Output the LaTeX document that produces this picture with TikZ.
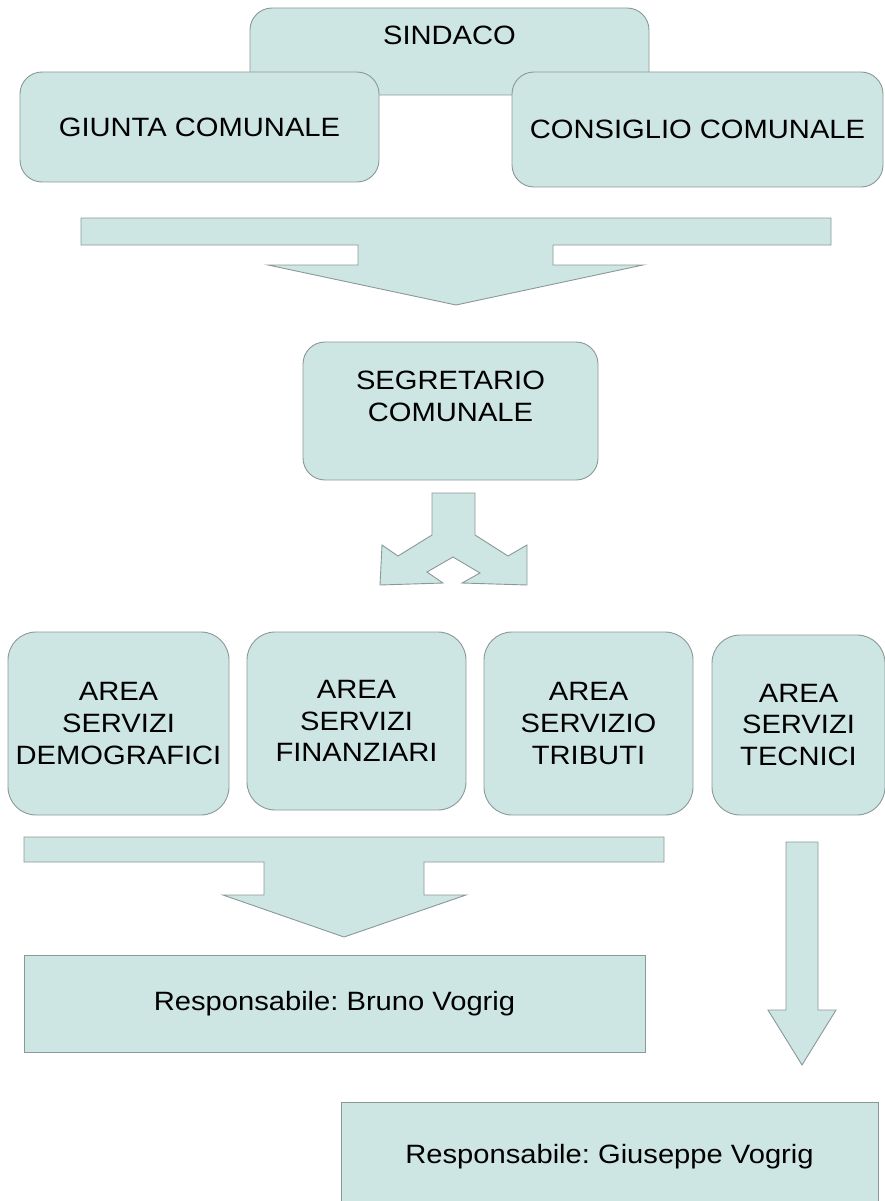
\documentclass[tikz,border=0pt]{standalone}
\usepackage{fontspec}
\setmainfont{Liberation Sans}[FakeStretch=1.1]
\frenchspacing
\definecolor{paleteal}{RGB}{206,230,227}
\definecolor{edgegray}{RGB}{138,152,150}
\tikzset{
  caption/.style={font=\fontsize{26.5pt}{31.8pt}\selectfont, align=center, inner sep=0pt},
  unit/.style={caption, draw=edgegray, fill=paleteal, line width=0.9pt, rounded corners=22pt},
  area/.style={unit, rounded corners=28pt},
  head/.style={unit, sharp corners},
  bigarrow/.style={draw=edgegray, fill=paleteal, line width=0.9pt}
}
\begin{document}
\begin{tikzpicture}[x=1pt, y=-1pt]
      \useasboundingbox (0,0) rectangle (885,1201);
      \node (sindaco) [unit, minimum width=399pt, minimum height=87pt,
        label={[caption, yshift=16.5pt]center:SINDACO}] at (449.5,51.5) {};
      \node (giunta) [unit, minimum width=359pt, minimum height=110pt] at (199.5,127) {GIUNTA COMUNALE};
      \node (consiglio) [unit, minimum width=371pt, minimum height=115pt] at (697.5,129.5) {CONSIGLIO COMUNALE};
      \node (segretario) [unit, minimum width=295pt, minimum height=138pt,
        label={[caption, yshift=15pt]center:{SEGRETARIO\\COMUNALE}}] at (450.5,411) {};
      \node (demografici) [area, minimum width=221pt, minimum height=183pt] at (118.5,723.5) {AREA\\SERVIZI\\DEMOGRAFICI};
      \node (finanziari) [area, minimum width=219pt, minimum height=178pt] at (356.5,721) {AREA\\SERVIZI\\FINANZIARI};
      \node (tributi) [area, minimum width=209pt, minimum height=183pt] at (588.5,723.5) {AREA\\SERVIZIO\\TRIBUTI};
      \node (tecnici) [area, minimum width=173pt, minimum height=180pt] at (798.5,725) {AREA\\SERVIZI\\TECNICI};
      \node (bruno) [head, minimum width=621pt, minimum height=97pt] at (334.5,1003.5) {Responsabile: Bruno Vogrig};
      \node (giuseppe) [head, minimum width=537pt, minimum height=110pt] at (609.5,1157) {Responsabile: Giuseppe Vogrig};
      \begin{scope}
        \draw[bigarrow] (81,218) -- (831,218) -- (831,245) -- (553,245) -- (553,265) -- (643,265)
          -- (456,305) -- (268,265) -- (358,265) -- (358,245) -- (81,245) -- cycle;
        \draw[bigarrow] (432,493) -- (475,493) -- (475,535) -- (508,556) -- (527,545) -- (527,585)
          -- (462,583) -- (480,573) -- (453,557) -- (427,572) -- (443,583) -- (380,585)
          -- (382,545) -- (398,556) -- (432,535) -- cycle;
        \draw[bigarrow] (24,837) -- (664,837) -- (664,862) -- (424,862) -- (424,895) -- (466,895)
          -- (344,937) -- (223,895) -- (264,895) -- (264,862) -- (24,862) -- cycle;
        \draw[bigarrow] (786,842) -- (818,842) -- (818,1010) -- (836,1010) -- (802,1065)
          -- (768,1010) -- (786,1010) -- cycle;
      \end{scope}
    \end{tikzpicture}
\end{document}
